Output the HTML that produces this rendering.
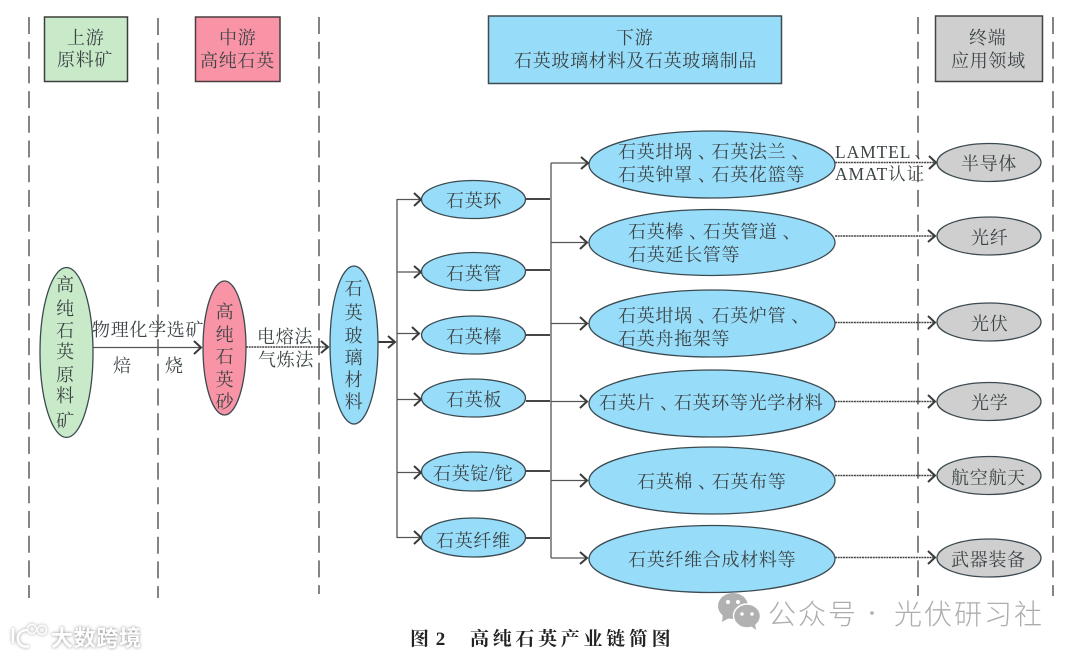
<!DOCTYPE html>
<html lang="zh"><head><meta charset="utf-8"><style>
html,body{margin:0;padding:0;background:#fff}
svg{display:block}
text{font-family:"Liberation Serif","Noto Serif CJK SC",serif;font-size:18px;fill:#3c4446;letter-spacing:.7px;transform:translate(0,.8px)}
.d{stroke:#666;stroke-width:1.6;stroke-dasharray:17 7.7;fill:none}
.l{stroke:#555;stroke-width:1.3;fill:none}
.k{stroke:#2c2c2c;stroke-width:1.8;fill:none}
.dt{stroke:#444;stroke-width:1.4;stroke-dasharray:2 .7;fill:none}
.a{stroke:#3a3a3a;stroke-width:2;fill:none}
.e{stroke:#3b4a50;stroke-width:1.3}
.v{text-anchor:middle}
.n{transform:none}
</style></head><body>
<svg width="1080" height="657" viewBox="0 0 1080 657" xmlns="http://www.w3.org/2000/svg">
<rect width="1080" height="657" fill="#fff"/>
<path class="d" d="M29 17V598M158 18V598M319 17V594M918 17V596M1053 17V596"/>

<rect x="44.500" y="17" width="83" height="64.500" fill="#c9eac9" stroke="#3c3f3c" stroke-width="1.500"/>
<rect x="195.500" y="17" width="84.500" height="64.500" fill="#f993a6" stroke="#4a3d40" stroke-width="1.500"/>
<rect x="488.500" y="16" width="293" height="67.500" fill="#97dcf9" stroke="#3f4a50" stroke-width="1.500"/>
<rect x="935.500" y="16" width="107" height="65.500" fill="#cfcfcf" stroke="#444" stroke-width="1.500"/>

<text x="67" y="43">上游</text><text x="57" y="65">原料矿</text>
<text x="219" y="43">中游</text><text x="200" y="66">高纯石英</text>
<text x="616" y="43">下游</text><text x="514" y="66">石英玻璃材料及石英玻璃制品</text>
<text x="969" y="43">终端</text><text x="951" y="66">应用领域</text>

<!-- left connectors -->
<path class="l" d="M93 347.500H201"/><path class="a" d="M194 341l7 6.500-7 6.500"/>
<path class="dt" d="M246 347H328"/><path class="a" d="M321 341l7 6-7 6"/>
<path class="a" d="M378 342H395M388 336l7 6-7 6"/>

<!-- trunk 1 -->
<path class="l" d="M397 199V538"/>
<path class="l" d="M397 199.500H421M397 272H421M397 333.500H419M397 399.500H421M397 472.500H421M397 537.500H421"/>
<path class="a" d="M414 193l7 6.500-7 6.500M414 266l7 6-7 6M412 327l7 6.500-7 6.500M414 393l7 6.500-7 6.500M414 466l7 6.500-7 6.500M414 531l7 6.500-7 6.500"/>

<!-- trunk 2 -->
<path class="l" d="M551 163V558"/>
<path class="k" d="M526 199H550M526 270H550M526 335H550M526 401H550M526 471H550M526 538H550"/>
<path class="l" d="M551 163H587M551 242.500H586M551 323.500H586M551 401.500H586M551 480.500H586M551 558H586"/>
<path class="a" d="M581 157l7 6-7 6M580 236l7 6.500-7 6.500M580 317l7 6.500-7 6.500M580 395l7 6.500-7 6.500M580 474l7 6.500-7 6.500M580 552l7 6-7 6"/>

<!-- right connectors -->
<path class="dt" d="M835 162.500H935M835 236H934M835 322.500H934M835 401.500H934M835 475.500H934M835 557.500H934"/>
<path class="a" d="M929 156l7 6.500-7 6.500M928 230l7 6-7 6M928 316l7 6.500-7 6.500M928 395l7 6.500-7 6.500M928 469l7 6.500-7 6.500M928 551l7 6.500-7 6.500"/>

<!-- tall ellipses -->
<ellipse class="e" cx="66.500" cy="352.500" rx="26.500" ry="85" fill="#c9eac9"/>
<ellipse class="e" cx="224.500" cy="348" rx="21.500" ry="67" fill="#f993a6"/>
<ellipse class="e" cx="354" cy="345" rx="24" ry="79" fill="#97dcf9"/>

<g>
<text class="v" x="65.500" y="290">高</text><text class="v" x="65.500" y="314">纯</text><text class="v" x="65.500" y="336">石</text><text class="v" x="65.500" y="357">英</text><text class="v" x="65.500" y="380">原</text><text class="v" x="65.500" y="401">料</text><text class="v" x="65.500" y="426">矿</text>
<text class="v" x="225" y="317">高</text><text class="v" x="225" y="340">纯</text><text class="v" x="225" y="362">石</text><text class="v" x="225" y="385">英</text><text class="v" x="225" y="407">砂</text>
<text class="v" x="354" y="294">石</text><text class="v" x="354" y="318">英</text><text class="v" x="354" y="341">玻</text><text class="v" x="354" y="363">璃</text><text class="v" x="354" y="385">材</text><text class="v" x="354" y="407">料</text>
</g>

<text x="92" y="335">物理化学选矿</text><text x="113" y="371">焙</text><text x="165" y="371">烧</text>
<text x="257" y="342">电熔法</text><text x="258" y="365">气炼法</text>

<!-- mid ellipses -->
<g fill="#97dcf9">
<ellipse class="e" cx="473.500" cy="199.500" rx="52" ry="19"/>
<ellipse class="e" cx="473.500" cy="271.500" rx="52" ry="19"/>
<ellipse class="e" cx="473.500" cy="335" rx="52" ry="19"/>
<ellipse class="e" cx="473.500" cy="398" rx="52" ry="19"/>
<ellipse class="e" cx="473.500" cy="471.500" rx="52" ry="19.500"/>
<ellipse class="e" cx="473.500" cy="537.500" rx="52" ry="19.500"/>
<ellipse class="e" cx="712" cy="164.500" rx="123" ry="33.500"/>
<ellipse class="e" cx="712" cy="242.500" rx="123" ry="33"/>
<ellipse class="e" cx="712" cy="323.500" rx="123" ry="33.500"/>
<ellipse class="e" cx="712" cy="403.500" rx="123" ry="33.500"/>
<ellipse class="e" cx="712" cy="480.500" rx="123" ry="33.500"/>
<ellipse class="e" cx="712" cy="559" rx="123" ry="33.500"/>
</g>
<g fill="#cfcfcf">
<ellipse class="e" cx="989" cy="162.500" rx="52" ry="19"/>
<ellipse class="e" cx="989" cy="236" rx="52" ry="19"/>
<ellipse class="e" cx="989" cy="322" rx="52" ry="19"/>
<ellipse class="e" cx="989" cy="401.500" rx="52" ry="19"/>
<ellipse class="e" cx="989" cy="475.500" rx="52" ry="19"/>
<ellipse class="e" cx="989" cy="558" rx="52" ry="19"/>
</g>

<text x="446" y="206">石英环</text>
<text x="446" y="279">石英管</text>
<text x="446" y="342">石英棒</text>
<text x="446" y="405">石英板</text>
<text x="433" y="479">石英锭/铊</text>
<text x="436" y="546">石英纤维</text>

<text x="618" y="157">石英坩埚<tspan dx="5">、</tspan><tspan dx="-5">石英法兰</tspan><tspan dx="5">、</tspan></text>
<text x="618" y="180">石英钟罩<tspan dx="5">、</tspan><tspan dx="-5">石英花篮等</tspan></text>
<text x="628" y="237">石英棒<tspan dx="5">、</tspan><tspan dx="-5">石英管道</tspan><tspan dx="5">、</tspan></text>
<text x="628" y="260">石英延长管等</text>
<text x="618" y="321">石英坩埚<tspan dx="5">、</tspan><tspan dx="-5">石英炉管</tspan><tspan dx="5">、</tspan></text>
<text x="618" y="344">石英舟拖架等</text>
<text x="599" y="408">石英片<tspan dx="5">、</tspan><tspan dx="-5">石英环等光学材料</tspan></text>
<text x="637" y="487">石英棉<tspan dx="5">、</tspan><tspan dx="-5">石英布等</tspan></text>
<text x="628" y="565">石英纤维合成材料等</text>

<text x="835" y="157" style="letter-spacing:.9px;font-size:17.500px">LAMTEL<tspan dx="3">、</tspan></text>
<text x="835" y="179" style="letter-spacing:.9px;font-size:17.500px">AMAT认证</text>

<text x="961" y="169">半导体</text>
<text x="971" y="243">光纤</text>
<text x="971" y="329">光伏</text>
<text x="971" y="408">光学</text>
<text x="951" y="483">航空航天</text>
<text x="951" y="565">武器装备</text>

<!-- caption -->
<text class="n" x="410" y="645" style="font-size:19px;font-weight:bold;fill:#222;letter-spacing:1px">图 2</text>
<text class="n" x="470" y="645" style="font-size:19px;font-weight:bold;fill:#222;letter-spacing:3.700px">高纯石英产业链简图</text>

<!-- wechat watermark -->
<g fill="#b1b1b1">
<ellipse cx="733" cy="606" rx="15" ry="13"/><path d="M723 614l-1 8 9-5z"/>
</g>
<ellipse cx="747" cy="616" rx="13.500" ry="12" fill="#b1b1b1" stroke="#fff" stroke-width="1.500"/>
<path d="M751 626l5 4-1-7z" fill="#b1b1b1"/>
<g fill="#fff"><circle cx="728" cy="602" r="2"/><circle cx="738" cy="602" r="2"/><circle cx="742" cy="614" r="1.700"/><circle cx="752" cy="614" r="1.700"/></g>
<g style='font-family:"Noto Sans CJK SC","Liberation Sans",sans-serif'>
<text class="n" x="768" y="624" style='font-family:inherit;font-size:28px;fill:#adadad;letter-spacing:2px;font-weight:300'>公众号</text>
<circle cx="872" cy="613" r="1.800" fill="#adadad"/>
<text class="n" x="894" y="624" style='font-family:inherit;font-size:28px;fill:#adadad;letter-spacing:2px;font-weight:300'>光伏研习社</text>
</g>

<!-- lower-left watermark -->
<g fill="none" stroke="#fff" stroke-width="2.500" style="filter:drop-shadow(0 0 1.500px #999)">
<path d="M13 628v15M28 630c-8 0-11 5-10 10s6 8 11 6"/>
<circle cx="32" cy="629" r="4.500" stroke-width="1.500"/><circle cx="42" cy="630" r="4.500" stroke-width="1.500"/>
</g>
<text class="n" x="51" y="646" style='font-family:"Noto Sans CJK SC",sans-serif;font-size:22px;font-weight:700;fill:#fff;letter-spacing:.7px;filter:drop-shadow(0 0 1.500px #888)'>大数跨境</text>
</svg>
</body></html>
